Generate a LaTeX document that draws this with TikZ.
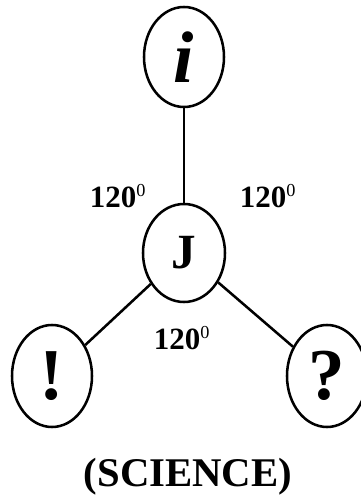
\documentclass[tikz,border=0pt]{standalone}
\usepackage{fontspec}
\setmainfont{Liberation Serif}
\usetikzlibrary{shapes.geometric}

\begin{document}
\begin{tikzpicture}
  [oval/.style={ellipse,draw=black,line width=1.8pt,inner sep=0pt,minimum width=2cm,minimum height=2.5cm},
  big/.style={font=\fontsize{52}{52}\selectfont\bfseries},
  angl/.style={font=\fontsize{22}{22}\selectfont\bfseries,inner sep=0pt}]
  \useasboundingbox (0,0) rectangle (9,12.525);

  \node[oval,big] (i) at (4.6,11.1) {\itshape i};
  \node[oval,font=\fontsize{35}{35}\selectfont\bfseries,minimum width=2.05cm,minimum height=2.45cm] (J) at (4.6,6.2) {J};
  \node[oval,big,minimum height=2.55cm] (excl) at (1.3,3.125) {!};
  \node[oval,big,minimum height=2.55cm] (ques) at (8.175,3.125) {?};

  \draw [line width=1.8pt] (i) -- (J);
  \draw [line width=1.8pt] (J) -- (excl);
  \draw [line width=1.8pt] (J) -- (ques);

  \node[angl] (a1) at (2.95,7.625) {120\textsuperscript{\mdseries\fontsize{13}{13}\selectfont 0}};
  \node[angl] (a2) at (6.7,7.625) {120\textsuperscript{\mdseries\fontsize{13}{13}\selectfont 0}};
  \node[angl] (a3) at (4.55,4.075) {120\textsuperscript{\mdseries\fontsize{13}{13}\selectfont 0}};

  \node[font=\fontsize{29}{29}\selectfont\bfseries,inner sep=0pt] (sci) at (4.7,0.6) {(SCIENCE)};
\end{tikzpicture}
\end{document}
